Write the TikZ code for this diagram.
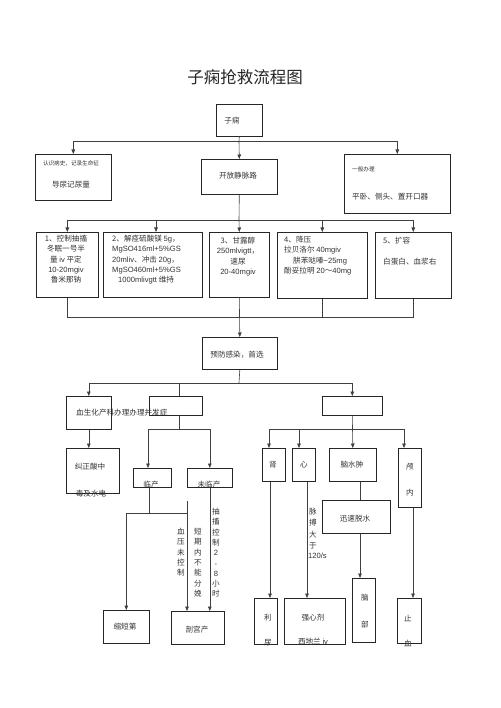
\documentclass[tikz,border=0pt]{standalone}
\usepackage{fontspec}
\setmainfont{Noto Sans CJK SC}
\newfontfamily\lat{Liberation Sans}
\usetikzlibrary{arrows.meta}
\tikzset{
  bx/.style={draw=black!85, line width=0.6pt, anchor=north west, inner sep=0pt},
  ln/.style={draw=black!75, line width=0.6pt},
  ar/.style={ln, -{Triangle[length=4.5pt,width=3.6pt]}},
  tx/.style={inner sep=0pt, font=\fontsize{7.6pt}{10.3pt}\selectfont, text=black!80},
  sm/.style={inner sep=0pt, font=\fontsize{5.6pt}{7pt}\selectfont, text=black!80},
  vt/.style={tx, align=center, anchor=north},
  ttl/.style={inner sep=0pt, font=\fontsize{16.5pt}{20pt}\selectfont, text=black!85}
}
\begin{document}
\begin{tikzpicture}[x=1pt,y=-1pt]
\useasboundingbox (0,0) rectangle (500,708);
\fill[white] (0,0) rectangle (500,708);

% ---------- boxes ----------
\node[bx, minimum width=46pt, minimum height=32pt] (zx) at (216,104) {};
\node[bx, minimum width=76pt, minimum height=46pt] (L) at (35,154) {};
\node[bx, minimum width=76pt, minimum height=35pt] (C) at (201,159) {};
\node[bx, minimum width=106pt, minimum height=59pt] (R) at (344,154) {};
\node[bx, minimum width=62pt, minimum height=65pt] (b1) at (36,232) {};
\node[bx, minimum width=99pt, minimum height=65pt] (b2) at (103,232) {};
\node[bx, minimum width=60pt, minimum height=65pt] (b3) at (209,232) {};
\node[bx, minimum width=90pt, minimum height=66pt] (b4) at (277,232) {};
\node[bx, minimum width=76pt, minimum height=66pt] (b5) at (375,232) {};
\node[bx, minimum width=75pt, minimum height=32pt] (yf) at (202,337) {};
\node[bx, minimum width=45pt, minimum height=33pt] (xs) at (66,396) {};
\node[bx, minimum width=53pt, minimum height=19pt] (e1) at (149,396) {};
\node[bx, minimum width=60pt, minimum height=19pt] (e2) at (322,396) {};
\node[bx, minimum width=53pt, minimum height=45pt] (jz) at (66,448) {};
\node[bx, minimum width=38pt, minimum height=19pt] (lc) at (133,468) {};
\node[bx, minimum width=45pt, minimum height=19pt] (wl) at (187,468) {};
\node[bx, minimum width=46pt, minimum height=33pt] (sd) at (103,610) {};
\node[bx, minimum width=53pt, minimum height=33pt] (pg) at (171,611) {};
\node[bx, minimum width=23pt, minimum height=33pt] (sh) at (262,448) {};
\node[bx, minimum width=23pt, minimum height=33pt] (xin) at (292,448) {};
\node[bx, minimum width=47pt, minimum height=33pt] (nsz) at (329,448) {};
\node[bx, minimum width=23pt, minimum height=59pt] (lnei) at (398,448) {};
\node[bx, minimum width=68pt, minimum height=33pt] (xs2) at (322,500) {};
\node[bx, minimum width=23pt, minimum height=46pt] (lnb) at (254,598) {};
\node[bx, minimum width=61pt, minimum height=46pt] (qx) at (284,598) {};
\node[bx, minimum width=23pt, minimum height=64pt] (nb) at (352,578) {};
\node[bx, minimum width=24pt, minimum height=45pt] (zxue) at (397,598) {};

% ---------- helper x positions ----------
\coordinate (x156) at (156,0);
\coordinate (x179) at (179,0);
\coordinate (x148) at (148,0);
\coordinate (x149) at (149,0);
\coordinate (x269) at (269,0);
\coordinate (x270) at (270,0);
\coordinate (x299) at (299,0);
\coordinate (x307) at (307,0);
\coordinate (x360) at (360,0);
\coordinate (x404) at (404,0);
\coordinate (x413) at (413,0);

% ---------- connectors ----------
\coordinate (j1) at (239,141);
\draw[ln] (zx.south) -- (j1);
\draw[ar] (j1) -| (L.north);
\draw[ar] (j1) -| (R.north);
\draw[ar] (j1) -- (C.north);

\coordinate (j2) at (239,220);
\draw[ln] (C.south) -- (j2);
\draw[ar] (j2) -| (b1.north);
\draw[ar] (j2) -| (x156 |- b2.north);
\draw[ar] (j2) -- (b3.north);
\draw[ar] (j2) -| (b4.north);
\draw[ar] (j2) -| (b5.north);

\coordinate (j3) at (239,317);
\draw[ln] (b1.south) |- (j3);
\draw[ln] (b5.south) |- (j3);
\draw[ln] (b4.south) -- (b4.south |- j3);
\draw[ar] (b3.south) -- (yf.north);

\coordinate (j4) at (239,383);
\draw[ln] (yf.south) -- (j4);
\draw[ar] (j4) -| (xs.north);
\draw[ln] (j4) -| (x179 |- e1.north);
\draw[ar] (j4) -| (e2.north);

\draw[ar] (xs.south) -- (xs.south |- jz.north);
\coordinate (j5) at (179,429);
\draw[ln] (x179 |- e1.south) -- (j5);
\draw[ar] (j5) -| (x148 |- lc.north);
\draw[ar] (j5) -| (wl.north);

\coordinate (j6) at (149,513);
\coordinate (v1) at (187,501);
\draw[ln] (x149 |- lc.south) -- (j6);
\draw[ar] (j6) -| (sd.north);
\draw[ln] (j6) -- (v1 |- j6);
\draw[ar] (v1) -- (v1 |- pg.north);
\draw[ar] (wl.south) -- (wl.south |- pg.north);

\coordinate (j7) at (352,429);
\draw[ar] (e2.south) -- (nsz.north);
\draw[ar] (j7) -| (x269 |- sh.north);
\draw[ar] (j7) -| (x299 |- xin.north);
\draw[ar] (j7) -| (x404 |- lnei.north);
\draw[ln] (x360 |- nsz.south) -- (x360 |- xs2.north);
\draw[ar] (x360 |- xs2.south) -- (x360 |- nb.north);
\draw[ar] (x270 |- sh.south) -- (x270 |- lnb.north);
\draw[ar] (x307 |- xin.south) -- (x307 |- qx.north);
\draw[ar] (x413 |- lnei.south) -- (x413 |- zxue.north);

% ---------- texts ----------
\node[ttl] (title) at (245,77) {子痫抢救流程图};
\node[tx] (tzx) at (232,121) {子痫};
\node[sm] (tL1) at (71,163) {认识病史，记录生命征};
\node[tx] (tL2) at (71,185) {导尿记尿量};
\node[tx] (tC) at (238,176) {开放静脉路};
\node[sm, anchor=west] (tR1) at (352,169) {一般办理};
\node[tx, anchor=west] (tR2) at (352,197) {平卧、侧头、置开口器};

\node[tx, align=center, anchor=north] (tb1) at (66,235) {1、控制抽搐\\冬眠一号半\\量 {\lat iv} 平定\\{\lat 10-20mgiv}\\鲁米那钠};
\node[tx, align=left, anchor=north west] (tb2) at (112,235) {2、解痉硫酸镁 {\lat 5g}，\\{\lat MgSO416ml+5\%GS}\\{\lat 20mliv}、冲击 {\lat 20g}，\\{\lat MgSO460ml+5\%GS}\\\hspace{6pt}{\lat 1000mlivgtt} 维持};
\node[tx, align=center, anchor=north] (tb3) at (238,237) {3、甘露醇\\{\lat 250mlvigtt}，\\速尿\\{\lat 20-40mgiv}};
\node[tx, align=left, anchor=north west] (tb4) at (284,236) {4、降压\\拉贝洛尔 {\lat 40mgiv}\\\hspace{9pt}肼苯哒嗪{\lat \textasciitilde25mg}\\酚妥拉明 {\lat 20}～{\lat 40mg}};
\node[tx, anchor=west] (tb5a) at (383,241) {5、扩容};
\node[tx, anchor=west] (tb5b) at (383,262) {白蛋白、血浆右};

\node[tx] (tyf) at (237,355) {预防感染，首选};
\node[tx, anchor=west] (txs) at (76,413) {血生化产科办理办理并发症};
\node[tx] (tjz1) at (90,467) {纠正酸中};
\node[tx] (tjz2) at (91,494) {毒及水电};
\node[tx] (tlc) at (151,485) {临产};
\node[tx] (twl) at (209,485) {未临产};
\node[vt] (tv1) at (181,528) {血\\压\\未\\控\\制};
\node[vt] (tv2) at (198,528) {短\\期\\内\\不\\能\\分\\娩};
\node[vt] (tv3) at (216,508) {抽\\搐\\控\\制\\{\lat 2}\\{\lat -}\\{\lat 8}\\小\\时};
\node[tx] (tsd) at (125,627) {缩短第};
\node[tx] (tpg) at (197,630) {剖宫产};

\node[tx] (tsh) at (273,465) {肾};
\node[tx] (txin) at (304,465) {心};
\node[tx] (tnsz) at (352,465) {脑水肿};
\node[tx] (tln1) at (410,467) {颅};
\node[tx] (tln2) at (410,493) {内};
\node[tx] (txs2) at (355,519) {迅速脱水};
\node[vt, font=\fontsize{7.6pt}{11.6pt}\selectfont] (tmb) at (313,507.5) {脉\\搏\\大\\于};
\node[tx, anchor=west] (t120) at (308,556) {\lat 120/s};
\node[tx] (tlnb1) at (268,618) {利};
\node[tx] (tlnb2) at (268,643) {尿};
\node[tx] (tqx1) at (313,618) {强心剂};
\node[tx] (tqx2) at (313,642) {西地兰 {\lat iv}};
\node[tx] (tnb1) at (365,598) {脑};
\node[tx] (tnb2) at (365,625) {部};
\node[tx] (tzx1) at (408,618) {止};
\node[tx] (tzx2) at (408,643) {血};
\end{tikzpicture}
\end{document}
